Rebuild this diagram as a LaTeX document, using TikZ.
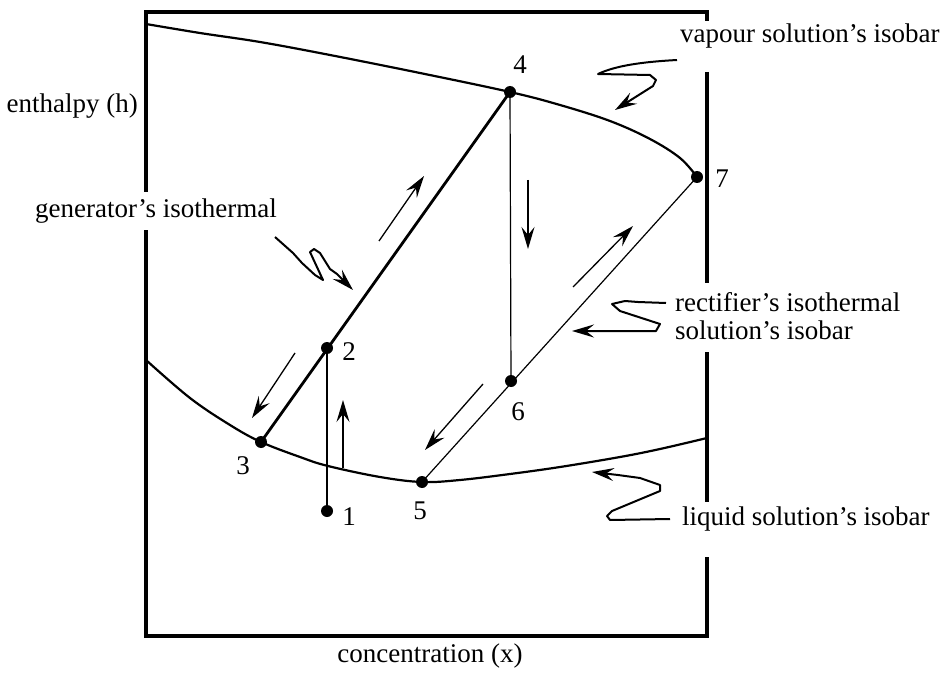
\documentclass[tikz,border=0pt]{standalone}
\usepackage{fontspec}
\setmainfont{Liberation Serif}
\usetikzlibrary{arrows.meta}
\begin{document}
\begin{tikzpicture}[x=1pt,y=-1pt,
  dot/.style={circle,fill=black,inner sep=0pt,minimum size=12pt},
  lbl/.style={inner sep=0pt,font=\fontsize{27}{31}\selectfont},
  frame/.style={line width=4pt},
  curve/.style={line width=2.2pt,line join=round},
  thickseg/.style={line width=2.8pt},
  thinseg/.style={line width=1.2pt},
  flow/.style={line width=1.3pt,-{Stealth[length=22pt,width=13pt,inset=8pt]}},
  leader/.style={line width=2pt,line join=round,-{Stealth[length=22pt,width=13pt,inset=8pt]}}]
\useasboundingbox (0,0) rectangle (951,674);
% frame with gaps
\draw[frame] (146,192) -- (146,12) -- (707,12) -- (707,21);
\draw[frame] (146,230) -- (146,636) -- (707,636) -- (707,557);
\draw[frame] (707,72) -- (707,283);
\draw[frame] (707,352) -- (707,502);
% isobars
\draw[curve] plot[smooth,tension=0.6] coordinates {(146,24) (200,33) (260,42) (330,55) (420,73) (510,92) (560,105) (610,121) (650,139) (680,158) (697,177)};
\draw[curve] plot[smooth,tension=0.6] coordinates {(146,360) (190,398) (230,425) (261,442) (300,457) (328,466) (380,477) (422,482) (460,480) (510,474) (560,467) (620,457) (660,449) (707,438)};
% points
\node[dot] (p1) at (327,511) {};
\node[dot] (p2) at (327,348) {};
\node[dot] (p3) at (261,442) {};
\node[dot] (p4) at (510,92) {};
\node[dot] (p5) at (422,482) {};
\node[dot] (p6) at (511,381) {};
\node[dot] (p7) at (697,177) {};
% process lines
\draw[thickseg] (p3.center) -- (p4.center);
\draw[thinseg] (p1.center) -- (p2.center);
\draw[thinseg] (p4.center) -- (p6.center);
\draw[thinseg] (p5.center) -- (p7.center);
% point labels
\node[lbl] (n1) at (349,517) {1};
\node[lbl] (n2) at (349,352) {2};
\node[lbl] (n3) at (243,466) {3};
\node[lbl] (n4) at (520,65) {4};
\node[lbl] (n5) at (420,511) {5};
\node[lbl] (n6) at (518,412) {6};
\node[lbl] (n7) at (722,179) {7};
% flow arrows
\coordinate (a1s) at (379,241); \coordinate (a1e) at (424,176);
\coordinate (a2s) at (295,353); \coordinate (a2e) at (252,418);
\coordinate (a3s) at (343,468); \coordinate (a3e) at (343,400);
\coordinate (a4s) at (528,180); \coordinate (a4e) at (528,249);
\coordinate (a5s) at (573,287); \coordinate (a5e) at (633,226);
\coordinate (a6s) at (483,384); \coordinate (a6e) at (425,450);
\draw[flow] (a1s) -- (a1e);
\draw[flow] (a2s) -- (a2e);
\draw[flow] (a3s) -- (a3e);
\draw[flow] (a4s) -- (a4e);
\draw[flow] (a5s) -- (a5e);
\draw[flow] (a6s) -- (a6e);
% texts
\node[lbl,anchor=east] (th) at (138,106) {enthalpy (h)};
\node[lbl] (tg) at (156,211) {generator’s isothermal};
\node[lbl,anchor=west] (tv) at (680,36) {vapour solution’s isobar};
\node[lbl,anchor=west] (tr1) at (675,302) {rectifier’s isothermal};
\node[lbl,anchor=west] (tr2) at (675,330) {solution’s isobar};
\node[lbl,anchor=west] (tl) at (682,519) {liquid solution’s isobar};
\node[lbl] (tx) at (430,656) {concentration (x)};
% leaders
\coordinate (gv) at (677,60);
\draw[leader] (gv) .. controls (640,62) and (615,66) .. (598,74) -- (650,75) -- (656,80) -- (653,86) -- (615,110);
\coordinate (gg) at (275,237);
\draw[leader] (gg) -- (293,253) -- (302,263) -- (315,275) -- (323,280) -- (310,252) -- (314,249) -- (320,253) -- (330,269) -- (337,274) -- (353,290);
\coordinate (gr) at (666,303);
\draw[leader] (gr) -- (638,302) -- (625,301) -- (612,304) -- (620,311) -- (660,324) -- (656,331) -- (572,331);
\coordinate (gl) at (670,519);
\draw[leader] (gl) -- (610,520) -- (607,516) -- (612,511) -- (660,491) -- (660,485) -- (640,478) -- (618,475) -- (592,472);
\end{tikzpicture}
\end{document}
